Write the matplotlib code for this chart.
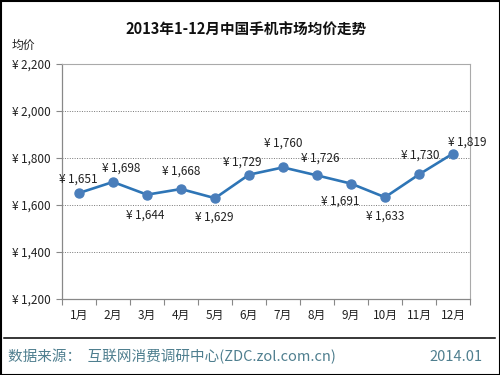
import matplotlib
matplotlib.use("Agg")
import matplotlib.pyplot as plt
from matplotlib.patches import Rectangle
from matplotlib.lines import Line2D

plt.rcParams['font.family'] = ['Noto Sans CJK SC', 'DejaVu Sans']

# data
months = ['1月', '2月', '3月', '4月', '5月', '6月', '7月', '8月', '9月', '10月', '11月', '12月']
prices = [1651, 1698, 1644, 1668, 1629, 1729, 1760, 1726, 1691, 1633, 1730, 1819]
yticks = [1200, 1400, 1600, 1800, 2000, 2200]

# label offsets in pixels (dx, dy)
label_off = [(-1, 14), (8, 14), (-2, -20), (0, 18), (-1, -19), (-7, 13),
             (0, 24), (3, 17), (-11, -18), (0, -19), (1, 19), (14, 11)]


def yen(v):
    return '¥\u2009' + f'{v:,}'


fig = plt.figure(figsize=(5, 3.75), dpi=100)
ax = fig.add_axes([0.124, 0.2027, 0.816, 0.6266])

x = list(range(len(months)))
ax.plot(x, prices, color='#2E75B6', lw=1.9, zorder=3)
ax.plot(x, prices, 'o', color='#4A7EBB', ms=6.5, zorder=4)

for i, v in enumerate(prices):
    dx, dy = label_off[i]
    ax.annotate(yen(v), (i, v), xytext=(dx, dy), textcoords='offset pixels',
                ha='center', va='center', fontsize=8.5, color='#222222')

ax.set_xlim(-0.5, len(months) - 0.5)
ax.set_ylim(1200, 2200)
ax.set_yticks(yticks)
ax.set_yticklabels([yen(v) for v in yticks], fontsize=8.5, color='#222222')
for v in yticks[1:-1]:
    ax.axhline(v, color='#777777', lw=0.7, ls=(0, (1, 1.5)), zorder=1)

ax.set_xticks(x)
ax.set_xticklabels(months, fontsize=8.5, color='#222222')
ax.set_xticks([i - 0.5 for i in range(len(months) + 1)], minor=True)
ax.tick_params(axis='x', which='major', length=0, pad=7)
ax.tick_params(axis='x', which='minor', length=4, color='#888888', width=0.8)
ax.tick_params(axis='y', length=4, color='#888888', width=0.8, pad=4)

for s in ['left', 'bottom']:
    ax.spines[s].set_color('#888888')
    ax.spines[s].set_linewidth(0.9)
for s in ['top', 'right']:
    ax.spines[s].set_color('#aaaaaa')
    ax.spines[s].set_linewidth(0.8)

fig.text(0.493, 0.92, '2013年1-12月中国手机市场均价走势', ha='center', va='center',
         fontsize=10.5, fontweight='bold', color='#111111')
fig.text(0.024, 0.878, '均价', ha='left', va='center', fontsize=8.5, color='#222222')

# footer
fig.add_artist(Line2D([0.008, 0.99], [0.099, 0.099], color='black', lw=1.1))
fig.text(0.016, 0.048, '数据来源：  互联网消费调研中心(ZDC.zol.com.cn)', ha='left', va='center',
         fontsize=10.5, color='#4F7F8F')
fig.text(0.965, 0.048, '2014.01', ha='right', va='center', fontsize=10.5, color='#4F7F8F')

fig.add_artist(Rectangle((0.001, 0.001), 0.998, 0.997, transform=fig.transFigure,
                         fill=False, ec='black', lw=1.5))

fig.savefig('out.png', dpi=100)
